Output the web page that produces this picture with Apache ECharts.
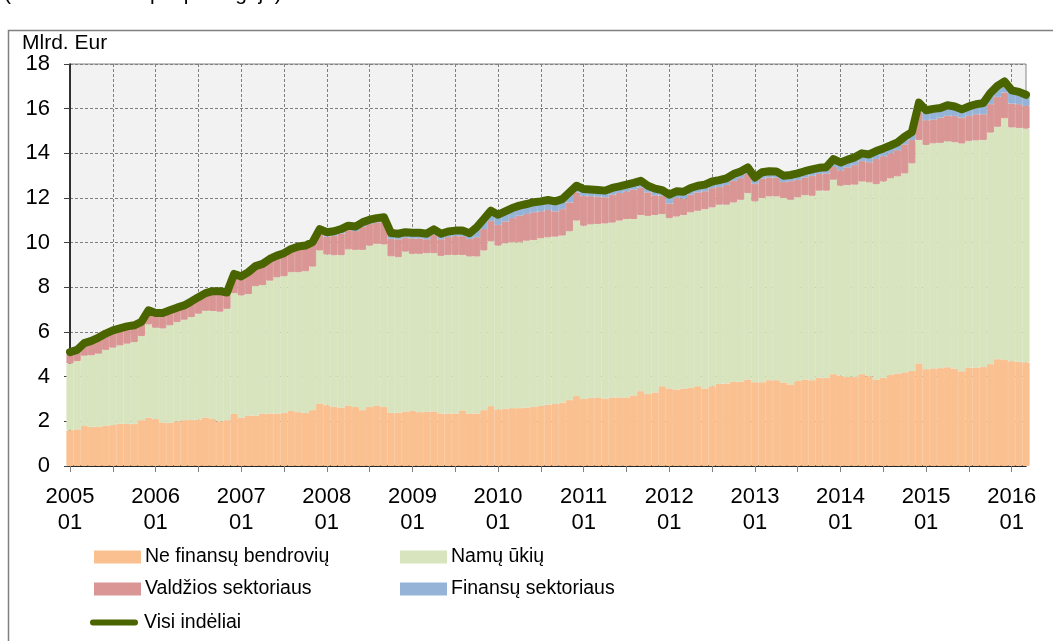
<!DOCTYPE html>
<html>
<head>
<meta charset="utf-8">
<title>Indėliai pagal sektorius</title>
<script src="https://cdn.jsdelivr.net/npm/echarts@6/dist/echarts.min.js"></script>
<style>
  html, body { margin: 0; padding: 0; background: #fff; }
  #chart { width: 1053px; height: 641px; }
</style>
</head>
<body>
<div id="chart"></div>
<script>
// menesiai 2005-01 ... 2016-03
var months = [];
for (var y = 2005; y <= 2016; y++) {
  for (var m = 1; m <= 12; m++) {
    if (y === 2016 && m > 3) break;
    months.push(y + '-' + (m < 10 ? '0' + m : m));
  }
}

// Mlrd. Eur, viena eilute = vieni metai
var neFinansu = [
  1.60, 1.64, 1.79, 1.76, 1.76, 1.80, 1.83, 1.90, 1.88, 1.89, 2.05, 2.17,
  2.10, 1.95, 1.94, 2.00, 2.05, 2.07, 2.08, 2.17, 2.10, 2.00, 2.05, 2.35,
  2.16, 2.26, 2.26, 2.35, 2.35, 2.35, 2.38, 2.46, 2.41, 2.38, 2.50, 2.80,
  2.72, 2.65, 2.62, 2.71, 2.64, 2.50, 2.65, 2.71, 2.65, 2.38, 2.38, 2.44,
  2.46, 2.41, 2.44, 2.44, 2.35, 2.35, 2.35, 2.49, 2.35, 2.35, 2.50, 2.68,
  2.53, 2.56, 2.59, 2.59, 2.62, 2.65, 2.69, 2.75, 2.78, 2.83, 2.95, 3.13,
  3.00, 3.04, 3.07, 3.02, 3.07, 3.07, 3.07, 3.16, 3.35, 3.22, 3.29, 3.57,
  3.47, 3.42, 3.47, 3.51, 3.57, 3.47, 3.57, 3.69, 3.69, 3.77, 3.77, 3.87,
  3.75, 3.75, 3.84, 3.84, 3.74, 3.65, 3.80, 3.87, 3.84, 3.95, 3.95, 4.11,
  4.05, 3.99, 3.99, 4.11, 4.02, 3.87, 3.95, 4.08, 4.14, 4.19, 4.26, 4.59,
  4.33, 4.37, 4.38, 4.42, 4.36, 4.24, 4.41, 4.41, 4.43, 4.56, 4.78, 4.75,
  4.69, 4.67, 4.64
];
var namuUkiu = [
  2.99, 3.06, 3.15, 3.20, 3.27, 3.40, 3.47, 3.50, 3.60, 3.66, 3.77, 4.17,
  4.09, 4.21, 4.36, 4.45, 4.50, 4.60, 4.74, 4.78, 4.84, 4.91, 4.99, 5.39,
  5.48, 5.44, 5.79, 5.75, 5.95, 6.10, 6.12, 6.22, 6.27, 6.34, 6.43, 6.85,
  6.75, 6.79, 6.82, 6.99, 7.04, 7.18, 7.22, 7.24, 7.27, 7.01, 6.97, 7.16,
  7.04, 7.09, 7.09, 7.09, 7.06, 7.10, 7.10, 6.96, 7.03, 7.03, 7.15, 7.38,
  7.34, 7.41, 7.43, 7.43, 7.47, 7.47, 7.51, 7.49, 7.49, 7.49, 7.56, 7.86,
  7.76, 7.78, 7.77, 7.84, 7.83, 7.92, 7.99, 7.90, 7.89, 7.98, 7.95, 7.71,
  7.63, 7.75, 7.77, 7.85, 7.86, 8.03, 8.01, 8.01, 8.01, 8.03, 8.15, 8.35,
  8.10, 8.25, 8.23, 8.23, 8.26, 8.27, 8.23, 8.26, 8.26, 8.38, 8.38, 8.71,
  8.50, 8.59, 8.61, 8.63, 8.68, 8.75, 8.79, 8.80, 8.83, 8.91, 9.29, 10.01,
  10.05, 10.08, 10.09, 10.11, 10.14, 10.20, 10.15, 10.17, 10.17, 10.37, 10.41, 10.82,
  10.47, 10.47, 10.47
];
var valdzios = [
  0.43, 0.42, 0.48, 0.56, 0.64, 0.65, 0.69, 0.68, 0.69, 0.67, 0.55, 0.55,
  0.58, 0.61, 0.59, 0.56, 0.56, 0.62, 0.66, 0.71, 0.81, 0.84, 0.65, 0.76,
  0.75, 0.88, 0.80, 0.85, 0.87, 0.87, 0.93, 0.94, 1.05, 1.05, 0.99, 0.76,
  0.80, 0.87, 0.97, 0.86, 0.84, 1.03, 0.96, 0.95, 1.02, 0.79, 0.80, 0.62,
  0.69, 0.69, 0.62, 0.82, 0.74, 0.80, 0.84, 0.84, 0.79, 0.86, 0.96, 0.92,
  0.93, 0.98, 1.08, 1.19, 1.19, 1.24, 1.20, 1.22, 1.13, 1.18, 1.29, 1.26,
  1.34, 1.26, 1.22, 1.17, 1.25, 1.23, 1.24, 1.32, 1.23, 1.05, 0.88, 0.82,
  0.65, 0.83, 0.74, 0.79, 0.82, 0.80, 0.86, 0.80, 0.88, 0.97, 0.97, 0.85,
  0.79, 0.87, 0.85, 0.84, 0.72, 0.83, 0.79, 0.79, 0.90, 0.74, 0.77, 0.57,
  0.69, 0.79, 0.87, 0.91, 0.90, 1.13, 1.13, 1.12, 1.17, 1.30, 1.05, 1.23,
  1.10, 1.06, 1.13, 1.15, 1.18, 1.16, 1.12, 1.17, 1.15, 1.27, 1.34, 1.15,
  1.07, 1.06, 1.01
];
var finansu = [
  0.08, 0.08, 0.08, 0.08, 0.08, 0.08, 0.08, 0.08, 0.08, 0.08, 0.08, 0.08,
  0.08, 0.08, 0.08, 0.08, 0.08, 0.08, 0.08, 0.08, 0.08, 0.08, 0.08, 0.10,
  0.10, 0.10, 0.10, 0.10, 0.10, 0.10, 0.10, 0.10, 0.10, 0.10, 0.10, 0.20,
  0.20, 0.20, 0.20, 0.20, 0.20, 0.20, 0.20, 0.20, 0.20, 0.25, 0.25, 0.25,
  0.25, 0.25, 0.25, 0.25, 0.25, 0.25, 0.25, 0.25, 0.25, 0.45, 0.45, 0.45,
  0.45, 0.45, 0.45, 0.45, 0.45, 0.45, 0.45, 0.45, 0.45, 0.45, 0.45, 0.30,
  0.30, 0.30, 0.30, 0.30, 0.30, 0.30, 0.30, 0.30, 0.30, 0.30, 0.30, 0.25,
  0.40, 0.30, 0.30, 0.30, 0.30, 0.30, 0.30, 0.30, 0.30, 0.30, 0.30, 0.30,
  0.28, 0.28, 0.28, 0.28, 0.28, 0.28, 0.28, 0.28, 0.28, 0.28, 0.28, 0.35,
  0.35, 0.35, 0.35, 0.35, 0.35, 0.35, 0.35, 0.35, 0.35, 0.35, 0.35, 0.44,
  0.45, 0.48, 0.43, 0.47, 0.42, 0.37, 0.42, 0.45, 0.50, 0.50, 0.49, 0.50,
  0.59, 0.55, 0.50
];
var visiIndeliai = [
  5.10, 5.20, 5.50, 5.60, 5.75, 5.93, 6.07, 6.16, 6.25, 6.30, 6.45, 6.97,
  6.85, 6.85, 6.97, 7.09, 7.19, 7.37, 7.56, 7.74, 7.83, 7.83, 7.77, 8.60,
  8.49, 8.68, 8.95, 9.05, 9.27, 9.42, 9.53, 9.72, 9.83, 9.87, 10.02, 10.61,
  10.47, 10.51, 10.61, 10.76, 10.72, 10.91, 11.03, 11.10, 11.14, 10.43, 10.40, 10.47,
  10.44, 10.44, 10.40, 10.60, 10.40, 10.50, 10.54, 10.54, 10.42, 10.69, 11.06, 11.43,
  11.25, 11.40, 11.55, 11.66, 11.73, 11.81, 11.85, 11.91, 11.85, 11.95, 12.25, 12.55,
  12.40, 12.38, 12.36, 12.33, 12.45, 12.52, 12.60, 12.68, 12.77, 12.55, 12.42, 12.35,
  12.15, 12.30, 12.28, 12.45, 12.55, 12.60, 12.74, 12.80, 12.88, 13.07, 13.19, 13.37,
  12.92, 13.15, 13.20, 13.19, 13.00, 13.03, 13.10, 13.20, 13.28, 13.35, 13.38, 13.74,
  13.59, 13.72, 13.82, 14.00, 13.95, 14.10, 14.22, 14.35, 14.49, 14.75, 14.95, 16.27,
  15.93, 15.99, 16.03, 16.15, 16.10, 15.97, 16.10, 16.20, 16.25, 16.70, 17.02, 17.22,
  16.82, 16.75, 16.62
];

var seriesNames = ['Ne finansų bendrovių', 'Namų ūkių', 'Valdžios sektoriaus', 'Finansų sektoriaus', 'Visi indėliai'];
var colors = ['#fac090', '#d7e4bd', '#d99694', '#95b3d7', '#4a6500'];
var FONT = '"Liberation Sans", Arial, sans-serif';

function barSeries(i, data) {
  return {
    name: seriesNames[i],
    type: 'bar',
    stack: 'viso',
    data: data,
    barCategoryGap: 0,
    barGap: 0,
    // tos pacios spalvos kontūras uzpildo tarpus tarp stulpeliu
    itemStyle: { color: colors[i], borderColor: colors[i], borderWidth: 1 },
    emphasis: { disabled: true }
  };
}

function legendItem(i, left, top, icon, w, h) {
  return {
    data: [{ name: seriesNames[i], icon: icon }],
    left: left,
    top: top,
    padding: 0,
    itemWidth: w,
    itemHeight: h,
    selectedMode: false,
    textStyle: { fontFamily: FONT, fontSize: 19.5, color: '#000' }
  };
}

var myChart = echarts.init(document.getElementById('chart'), null, { renderer: 'canvas' });
var dash = [3, 2];

myChart.setOption({
  animation: false,
  backgroundColor: '#fff',
  textStyle: { fontFamily: FONT },
  grid: {
    left: 70, top: 64, width: 956, height: 402,
    show: true, backgroundColor: '#f2f2f2', borderColor: '#868686', borderWidth: 1
  },
  graphic: [
    {
      type: 'rect', silent: true,
      shape: { x: 8.5, y: 30.5, width: 1200, height: 800 },
      style: { fill: 'none', stroke: '#808080', lineWidth: 1.5 }
    },
    {
      // antraste nukirpta vaizdo virsuje, matosi tik apatine dalis
      type: 'text', silent: true, x: 4, y: -6,
      style: { text: '(indėliai laikotarpio pabaigoje)', fontFamily: FONT, fontSize: 21, fill: '#000', verticalAlign: 'middle' }
    },
    {
      type: 'text', silent: true, x: 22, y: 33,
      style: { text: 'Mlrd. Eur', fontFamily: FONT, fontSize: 21, fill: '#000' }
    }
  ],
  legend: [
    legendItem(0, 94, 547, 'rect', 45, 11),
    legendItem(1, 400, 547, 'rect', 45, 11),
    legendItem(2, 94, 579, 'rect', 45, 11),
    legendItem(3, 400, 579, 'rect', 45, 11),
    legendItem(4, 90, 612.5, 'path://M3,0H45A3,3,0,0,1,45,6H3A3,3,0,0,1,3,0Z', 50, 6)
  ],
  xAxis: {
    type: 'category',
    data: months,
    boundaryGap: false,
    axisLine: { lineStyle: { color: '#000', width: 1.5 } },
    axisTick: {
      interval: function (i) { return i % 6 === 0; },
      length: 6,
      lineStyle: { color: '#808080' }
    },
    axisLabel: {
      interval: function (i) { return i % 12 === 0; },
      formatter: function (v) { return v.replace('-', '\n'); },
      color: '#000', fontFamily: FONT, fontSize: 22, lineHeight: 26, margin: 18
    },
    splitLine: {
      show: true,
      interval: function (i) { return i % 6 === 0 && i > 0; },
      lineStyle: { color: '#7f7f7f', type: dash }
    }
  },
  yAxis: {
    type: 'value',
    min: 0, max: 18, interval: 2,
    axisLine: { show: true, lineStyle: { color: '#000', width: 1.5 } },
    axisTick: { show: true, length: 6, lineStyle: { color: '#404040' } },
    axisLabel: { color: '#000', fontFamily: FONT, fontSize: 22, margin: 20 },
    splitLine: { lineStyle: { color: '#7f7f7f', type: dash } }
  },
  series: [
    barSeries(0, neFinansu),
    barSeries(1, namuUkiu),
    barSeries(2, valdzios),
    barSeries(3, finansu),
    {
      name: seriesNames[4],
      type: 'line',
      data: visiIndeliai,
      symbol: 'none',
      z: 5,
      color: colors[4],
      itemStyle: { color: colors[4] },
      lineStyle: { width: 8, color: colors[4], cap: 'round', join: 'round' },
      emphasis: { disabled: true }
    }
  ]
});
</script>
</body>
</html>
